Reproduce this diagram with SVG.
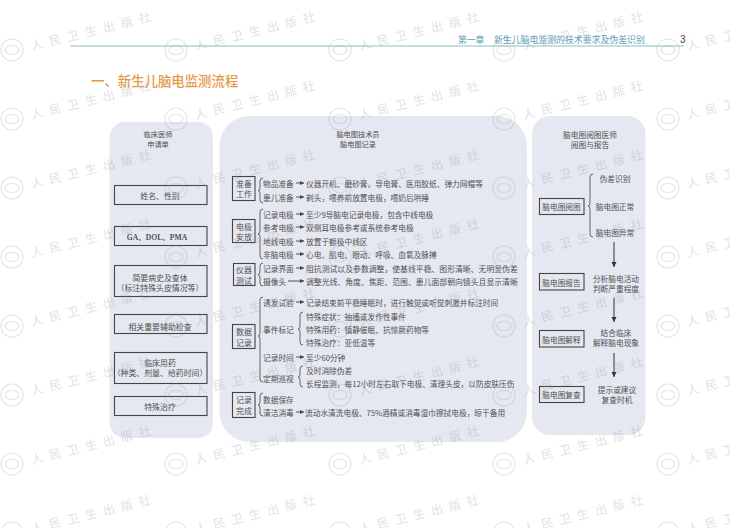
<svg xmlns="http://www.w3.org/2000/svg" width="730" height="528" viewBox="0 0 730 528">
<style>
text{font-family:"Noto Sans CJK SC","Noto Sans",sans-serif;fill:#505050;font-size:7.7px;dominant-baseline:central}
.m{text-anchor:middle}
.s{font-size:7.2px}
.l{font-size:7.9px}
.b{fill:none;stroke:#444;stroke-width:1.1}
.p{fill:#e5e8f1}
.br{fill:none;stroke:#444;stroke-width:.8}
.a{stroke:#444;stroke-width:.9;fill:none;marker-end:url(#ah)}
.a2{stroke:#333;stroke-width:1;fill:none;marker-end:url(#ah2)}
text.wt{fill:#8f929c;font-size:12px;letter-spacing:6.5px;font-weight:500}
.wm{opacity:.24}
.wl{fill:none;stroke:#8f929c;stroke-width:1.1}
</style>
<defs>
<marker id="ah" markerUnits="userSpaceOnUse" markerWidth="5" markerHeight="5" refX="4" refY="2.5" orient="auto"><path d="M0 .5L4 2.5L0 4.5z" fill="#444"/></marker>
<marker id="ah2" markerUnits="userSpaceOnUse" markerWidth="6" markerHeight="7" refX="5" refY="3" orient="auto"><path d="M0 0.5L5 3L0 5.5z" fill="#333"/></marker>
<g id="w"><circle cx="0" cy="0" r="11" class="wl"/><ellipse cx="0" cy="0" rx="7" ry="4.5" class="wl"/><text class="wt" x="19" y="-5" transform="rotate(-14 19 -5)">人民卫生出版社</text></g>
</defs>
<g id="header">
<line x1="70" y1="46" x2="684" y2="46" stroke="#8fbccb" stroke-width="1"/>
<text x="458" y="39" style="font-size:8.8px;fill:#5e9cb1">第一章</text>
<text x="494" y="39" style="font-size:8.9px;fill:#5e9cb1">新生儿脑电监测的技术要求及伪差识别</text>
<text x="680" y="39" style="font-size:10px;fill:#444;font-family:'Liberation Sans',sans-serif">3</text>
<text x="91" y="80" style="font-size:13.4px;fill:#e49a4c;font-weight:500">一、新生儿脑电监测流程</text>
</g>
<g id="panels">
<rect class="p" x="109.500" y="122" width="103.500" height="316" rx="15"/>
<rect class="p" x="219.500" y="116" width="307.500" height="326" rx="30"/>
<rect class="p" x="532" y="116" width="113.500" height="319" rx="18"/>
</g>
<g id="clinician">
<text class="m s" x="158" y="134">临床医师</text>
<text class="m s" x="158" y="144">申请单</text>
<g id="n-name"><rect class="b" x="114.500" y="185.500" width="92.500" height="19"/><text class="m l" x="160" y="195">姓名、性别</text></g>
<g id="n-ga"><rect class="b" x="114.500" y="226.500" width="92.500" height="19"/><text class="m" x="157" y="237" style="font-family:'Liberation Serif','Noto Sans CJK SC',serif;font-weight:bold;font-size:7.6px">GA、DOL、PMA</text></g>
<g id="n-history"><rect class="b" x="114.500" y="265.500" width="92.500" height="31"/><text class="m l" x="160" y="277">简要病史及查体</text><text class="m l" x="160" y="287">（标注特殊头皮情况等）</text></g>
<g id="n-aux"><rect class="b" x="114.500" y="314.500" width="92.500" height="19"/><text class="m l" x="160" y="326">相关重要辅助检查</text></g>
<g id="n-drug"><rect class="b" x="114.500" y="352.500" width="92.500" height="31"/><text class="m l" x="160" y="362">临床用药</text><text class="m l" x="160" y="372">（种类、剂量、给药时间）</text></g>
<g id="n-special"><rect class="b" x="114.500" y="396.500" width="92.500" height="19"/><text class="m l" x="160" y="406">特殊治疗</text></g>
</g>
<g id="technician">
<text class="m s" x="358" y="134">脑电图技术员</text>
<text class="m s" x="358" y="144">脑电图记录</text>
<g id="n-prep"><rect class="b" x="232.500" y="176.500" width="22.500" height="24"/><text class="m l" x="244" y="183">准备</text><text class="m l" x="244" y="193">工作</text></g>
<g id="n-elec"><rect class="b" x="232.500" y="219.500" width="22.500" height="23"/><text class="m l" x="244" y="226">电极</text><text class="m l" x="244" y="236">安放</text></g>
<g id="n-inst"><rect class="b" x="233.500" y="263.500" width="21.500" height="22"/><text class="m l" x="244" y="269">仪器</text><text class="m l" x="244" y="280">测试</text></g>
<g id="n-data"><rect class="b" x="232.500" y="324.500" width="22.500" height="24"/><text class="m l" x="244" y="331">数据</text><text class="m l" x="244" y="342">记录</text></g>
<g id="n-done"><rect class="b" x="232.500" y="392.500" width="22.500" height="25"/><text class="m l" x="244" y="399">记录</text><text class="m l" x="244" y="410">完成</text></g>
<g id="t-prep">
<text x="263" y="183">物品准备</text><text x="306" y="183">仪器开机、磨砂膏、导电膏、医用胶纸、弹力网帽等</text>
<text x="263" y="197">患儿准备</text><text x="306" y="197">剃头，喂养前放置电极，喂奶后哄睡</text>
</g>
<g id="t-elec">
<text x="263" y="214">记录电极</text><text x="306" y="214">至少9导脑电记录电极，包含中线电极</text>
<text x="263" y="227">参考电极</text><text x="306" y="227">双侧耳电极参考或系统参考电极</text>
<text x="263" y="241">地线电极</text><text x="306" y="241">放置于额极中线区</text>
<text x="263" y="254">非脑电极</text><text x="306" y="254">心电、肌电、眼动、呼吸、血氧及脉搏</text>
</g>
<g id="t-inst">
<text x="263" y="268">记录界面</text><text x="306" y="268" style="font-size:7.85px">阻抗测试以及参数调整，使基线平稳、图形清晰、无明显伪差</text>
<text x="263" y="281">摄像头</text><text x="306" y="281" style="font-size:7.85px">调整光线、角度、焦距、范围、患儿面部朝向镜头且显示清晰</text>
</g>
<g id="t-data">
<text x="263" y="302">诱发试验</text><text x="306" y="302">记录结束前平稳睡眠时，进行触觉或听觉刺激并标注时间</text>
<text x="263" y="329">事件标记</text>
<text x="306" y="316">特殊症状：抽搐或发作性事件</text>
<text x="306" y="329">特殊用药：镇静催眠、抗惊厥药物等</text>
<text x="306" y="342">特殊治疗：亚低温等</text>
<text x="263" y="357">记录时间</text><text x="306" y="357">至少60分钟</text>
<text x="263" y="378">定期巡视</text>
<text x="306" y="370">及时消除伪差</text>
<text x="306" y="383">长程监测，每12小时左右取下电极、清理头皮，以防皮肤压伤</text>
</g>
<g id="t-done">
<text x="263" y="399">数据保存</text>
<text x="263" y="412">清洁消毒</text><text x="305" y="412">流动水清洗电极、75%酒精或消毒湿巾擦拭电极，晾干备用</text>
</g>
</g>
<g id="reader">
<text class="m" x="590" y="134">脑电图阅图医师</text>
<text class="m" x="590" y="144">阅图与报告</text>
<g id="n-read"><rect class="b" x="539.500" y="198.500" width="44.500" height="16"/><text class="m" x="561.500" y="206.500">脑电图阅图</text></g>
<g id="n-report"><rect class="b" x="539.500" y="273.500" width="44.500" height="16.500"/><text class="m" x="561.500" y="282">脑电图报告</text></g>
<g id="n-explain"><rect class="b" x="539.500" y="330.500" width="44.500" height="16.500"/><text class="m" x="561.500" y="339">脑电图解释</text></g>
<g id="n-review"><rect class="b" x="539.500" y="386.500" width="44.500" height="16"/><text class="m" x="561.500" y="394.500">脑电图复查</text></g>
<text class="m" x="615" y="178">伪差识别</text>
<text class="m" x="615" y="206">脑电图正常</text>
<text class="m" x="615" y="232">脑电图异常</text>
<text class="m" x="616" y="278">分析脑电活动</text>
<text class="m" x="616" y="288">判断严重程度</text>
<text class="m" x="616" y="332">结合临床</text>
<text class="m" x="616" y="342">解释脑电现象</text>
<text class="m" x="617" y="389">提示或建议</text>
<text class="m" x="617" y="399">复查时机</text>
</g>
<g id="connectors">
<path class="br" d="M263 178Q260 178 260 181V188Q260 190.500 258 190.500Q260 190.500 260 193V200Q260 203 263 203"/>
<path class="br" d="M263 209Q260 209 260 212V231Q260 234 258 234Q260 234 260 237V256Q260 259 263 259"/>
<path class="br" d="M263 263Q260 263 260 266V271Q260 274.500 258 274.500Q260 274.500 260 278V283Q260 286 263 286"/>
<path class="br" d="M263 297Q260 297 260 300V333Q260 336 258 336Q260 336 260 339V379Q260 382 263 382"/>
<path class="br" d="M303 312Q300 312 300 315V326Q300 329 298 329Q300 329 300 332V342Q300 345 303 345"/>
<path class="br" d="M303 366Q300 366 300 369V374Q300 377 298 377Q300 377 300 380V384Q300 387 303 387"/>
<path class="br" d="M263 393Q260 393 260 396V402Q260 405 258 405Q260 405 260 408V413Q260 416 263 416"/>
<path class="br" d="M593 174Q590 174 590 177V203Q590 206 588 206Q590 206 590 209V234Q590 237 593 237"/>
<path class="a" d="M296 183H304"/><path class="a" d="M296 197H304"/>
<path class="a" d="M296 214H304"/><path class="a" d="M296 227H304"/><path class="a" d="M296 241H304"/><path class="a" d="M296 254H304"/>
<path class="a" d="M296 268H304"/><path class="a" d="M288 281H304"/>
<path class="a" d="M296 302H304"/><path class="a" d="M296 357H304"/><path class="a" d="M296 412H304"/>
<path class="a2" d="M614 242V267"/><path class="a2" d="M614 298V322"/><path class="a2" d="M614 353V377"/>
</g>
<g id="watermark" class="wm">
<use href="#w" x="12" y="50"/><use href="#w" x="176" y="50"/><use href="#w" x="340" y="50"/><use href="#w" x="504" y="50"/><use href="#w" x="668" y="50"/>
<use href="#w" x="12" y="119"/><use href="#w" x="176" y="119"/><use href="#w" x="340" y="119"/><use href="#w" x="504" y="119"/><use href="#w" x="668" y="119"/>
<use href="#w" x="12" y="188"/><use href="#w" x="176" y="188"/><use href="#w" x="340" y="188"/><use href="#w" x="504" y="188"/><use href="#w" x="668" y="188"/>
<use href="#w" x="12" y="257"/><use href="#w" x="176" y="257"/><use href="#w" x="340" y="257"/><use href="#w" x="504" y="257"/><use href="#w" x="668" y="257"/>
<use href="#w" x="12" y="326"/><use href="#w" x="176" y="326"/><use href="#w" x="340" y="326"/><use href="#w" x="504" y="326"/><use href="#w" x="668" y="326"/>
<use href="#w" x="12" y="395"/><use href="#w" x="176" y="395"/><use href="#w" x="340" y="395"/><use href="#w" x="504" y="395"/><use href="#w" x="668" y="395"/>
<use href="#w" x="12" y="464"/><use href="#w" x="176" y="464"/><use href="#w" x="340" y="464"/><use href="#w" x="504" y="464"/><use href="#w" x="668" y="464"/>
<use href="#w" x="12" y="533"/><use href="#w" x="176" y="533"/><use href="#w" x="340" y="533"/><use href="#w" x="504" y="533"/><use href="#w" x="668" y="533"/>
</g>
</svg>
